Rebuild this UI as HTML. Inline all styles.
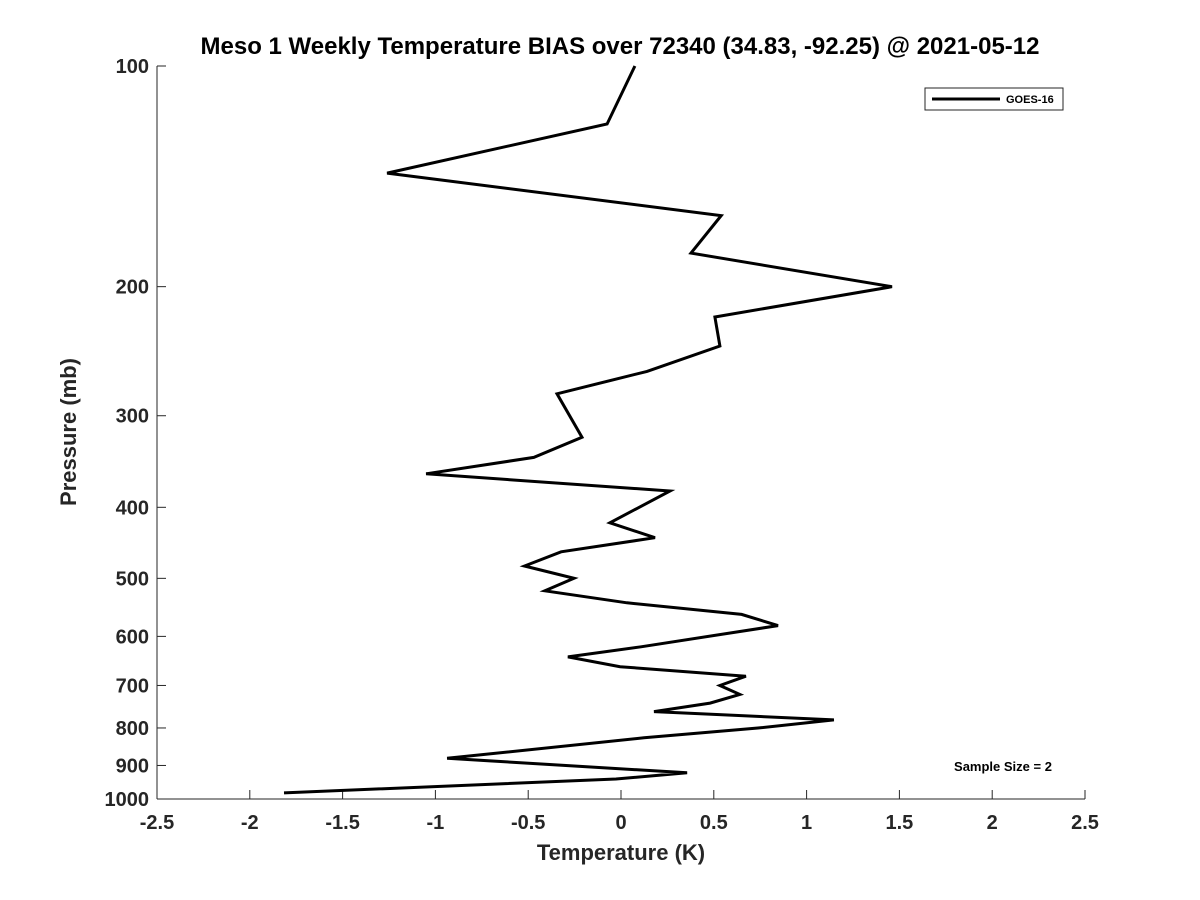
<!DOCTYPE html>
<html><head><meta charset="utf-8"><style>
body{margin:0;background:#fff;}
svg{display:block;font-family:"Liberation Sans","DejaVu Sans",sans-serif;}
</style></head><body>
<svg id="chart" width="1200" height="900">
<text x="620" y="54" text-anchor="middle" font-size="24" font-weight="bold" fill="#000">Meso 1 Weekly Temperature BIAS over 72340 (34.83, -92.25) @ 2021-05-12</text>
<text transform="translate(76,432) rotate(-90)" text-anchor="middle" font-size="22" font-weight="bold" fill="#262626">Pressure (mb)</text>
<text x="621" y="860" text-anchor="middle" font-size="22" font-weight="bold" fill="#262626">Temperature (K)</text>
<g id="axes"></g>
<g>
<rect x="925" y="88" width="138" height="22" fill="#fff" stroke="#262626" stroke-width="1"/>
<line x1="932" y1="99" x2="1000" y2="99" stroke="#000" stroke-width="3"/>
<text x="1006" y="103" font-size="11" font-weight="bold">GOES-16</text>
</g>
<text x="1003" y="771" text-anchor="middle" font-size="13" font-weight="bold">Sample Size = 2</text>
</svg>
<script>
const xTicks=[-2.5,-2,-1.5,-1,-0.5,0,0.5,1,1.5,2,2.5];
const xTickLabels=["-2.5","-2","-1.5","-1","-0.5","0","0.5","1","1.5","2","2.5"];
const yTicks=[100,200,300,400,500,600,700,800,900,1000];
const pressures=[100,120,140,160,180,200,220,241,261,280,321,342,360,380,420,440,460,481,500,520,540,560,580,620,640,660,680,700,720,740,760,780,800,825,880,921,939,981];
const bias=[0.075,-0.075,-1.26,0.54,0.377,1.46,0.506,0.533,0.14,-0.345,-0.21,-0.47,-1.05,0.264,-0.06,0.183,-0.323,-0.52,-0.253,-0.41,0.032,0.65,0.846,0.108,-0.286,-0.005,0.673,0.533,0.64,0.48,0.178,1.147,0.738,0.124,-0.937,0.356,-0.027,-1.816];
const X0=157,X1=1085,Y0=66,Y1=799;
const xs=v=>X0+(v+2.5)/5*(X1-X0);
const ys=p=>Y0+Math.log10(p/100)*(Y1-Y0);
const NS="http://www.w3.org/2000/svg";
const svg=document.getElementById('chart');
const ax=document.getElementById('axes');
function mk(t,a,parent){const e=document.createElementNS(NS,t);for(const k in a)e.setAttribute(k,a[k]);(parent||ax).appendChild(e);return e;}
const xl=mk('line',{x1:X0,y1:Y1,x2:X1,y2:Y1,stroke:'#262626','stroke-width':1});


const yl=mk('line',{x1:X0,y1:Y0,x2:X0,y2:Y1,stroke:'#262626','stroke-width':1});


xTicks.forEach((v,i)=>{
  mk('line',{x1:xs(v),y1:Y1,x2:xs(v),y2:Y1-9,stroke:'#262626'});
  const t=mk('text',{x:xs(v),y:Y1+30,'text-anchor':'middle','font-size':20,'font-weight':'bold',fill:'#262626'});
  t.textContent=xTickLabels[i];
  
  
});
yTicks.forEach(p=>{
  mk('line',{x1:X0,y1:ys(p),x2:X0+9,y2:ys(p),stroke:'#262626'});
  const t=mk('text',{x:X0-8,y:ys(p)+7,'text-anchor':'end','font-size':20,'font-weight':'bold',fill:'#262626'});
  t.textContent=String(p);
  
  
});
const pts=pressures.map((p,i)=>xs(bias[i]).toFixed(1)+','+ys(p).toFixed(1)).join(' ');
const line=mk('polyline',{points:pts,fill:'none',stroke:'#000','stroke-width':3,'stroke-linejoin':'miter'});


</script>
</body></html>
